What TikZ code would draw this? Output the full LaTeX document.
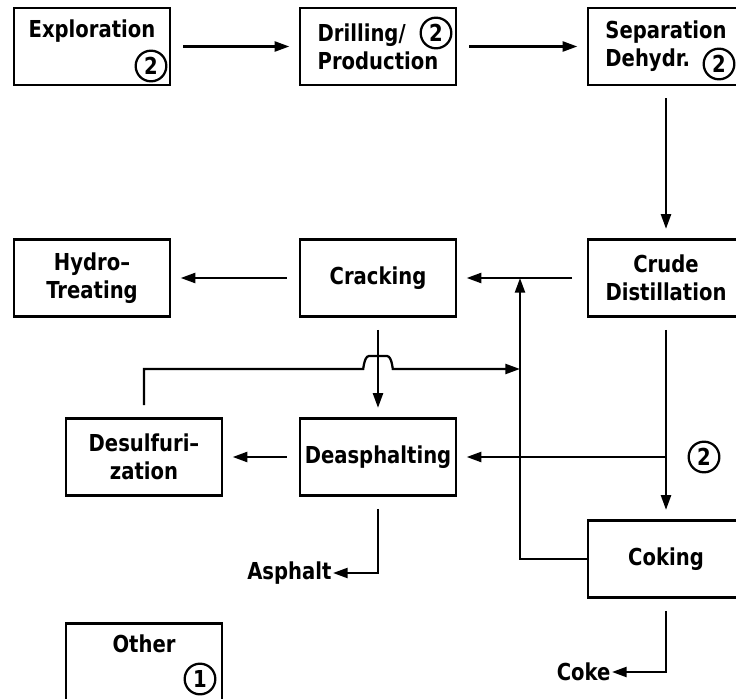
\documentclass[tikz,border=0pt]{standalone}
\usepackage{fontspec}
\setmainfont[FakeStretch=0.84]{DejaVu Sans}
\usetikzlibrary{arrows.meta,positioning,calc}
\tikzset{
  box/.style={draw, line width=2pt, minimum width=117pt, minimum height=57.75pt, inner sep=2pt, align=center},
  num/.style={draw, circle, line width=1.7pt, minimum size=23pt, inner sep=0pt},
  flow/.style={line width=1.7pt, -{Triangle[length=11pt,width=7.5pt]}, shorten <=9pt, shorten >=7pt},
  lbl/.style={inner sep=1pt},
}

\begin{document}
\begin{tikzpicture}[x=0.75pt,y=-0.75pt,font=\bfseries\fontsize{17.5}{21}\selectfont]
\useasboundingbox (0,0) rectangle (736,699);
% top row
\node[box] (expl) at (92,46.5) {};
\node[lbl,anchor=base] at (92,38) {Exploration};
\node[num] at (151,66) {2};
\node[box,align=left] (drill) at (378,46.5) {Drilling/\\Production};
\node[num] at (436,33) {2};
\node[box,align=left] (sep) at (666,46.5) {Separation\\Dehydr.};
\node[num] at (719,64) {2};
% middle row
\node[box] (hydro) at (92,278) {Hydro--\\Treating};
\node[box] (crack) at (378,278) {Cracking};
\node[box] (crude) at (666,278) {Crude\\Distillation};
% lower rows
\node[box] (desulf) at (144,457) {Desulfuri--\\zation};
\node[box] (deasph) at (378,457) {Deasphalting};
\node[box] (coking) at (666,559) {Coking};
\node[box] (other) at (144,662) {};
\node[lbl,anchor=base] at (144,652) {Other};
\node[num] at (200,679) {1};
\node[num] at (704,457) {2};
\node[lbl,anchor=east] (asph) at (333,573) {Asphalt};
\node[lbl,anchor=east] (coke) at (612,672) {Coke};
\coordinate (tee) at (520,278);
\coordinate (mix) at (520,369);

\draw[flow] (expl) -- (drill);
\draw[flow] (drill) -- (sep);
\draw[flow] (sep) -- (crude);
\draw[flow,shorten <=11pt] (crude) -- (tee -| crack.east);
\draw[flow] (crack) -- (hydro);
\draw[flow] (crack.south) -- (deasph.north);
\draw[flow] (crude.south) -- (coking.north);
\draw[flow,shorten <=0pt] (crude.south |- deasph.east) -- (deasph.east);
\draw[flow] (deasph) -- (desulf);
\draw[flow,shorten <=0pt,shorten >=0pt] (coking.west) -| (tee);
\draw[flow,shorten >=0pt] (desulf.north) -- (desulf.north |- mix)
  -- ($(crack.south |- mix)+(-15,0)$) to[out=-90,in=180] ($(crack.south |- mix)+(-9,-13)$)
  -- ($(crack.south |- mix)+(9,-13)$) to[out=0,in=-90] ($(crack.south |- mix)+(15,0)$)
  -- (mix);
\draw[flow,shorten >=0pt] (deasph.south) |- (asph.east);
\draw[flow,shorten >=0pt] (coking.south) |- (coke.east);
\end{tikzpicture}
\end{document}
